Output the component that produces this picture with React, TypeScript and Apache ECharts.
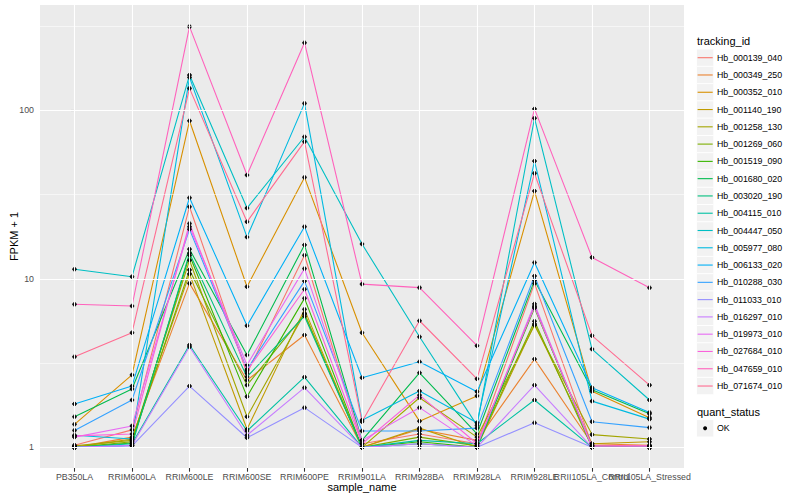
import React, { useEffect, useRef } from 'react';
import * as echarts from 'echarts';

const categories = [
  'PB350LA', 'RRIM600LA', 'RRIM600LE', 'RRIM600SE', 'RRIM600PE', 'RRIM901LA',
  'RRIM928BA', 'RRIM928LA', 'RRIM928LE', 'RRII105LA_Control', 'RRII105LA_Stressed',
];

const trackingIds = [
  'Hb_000139_040', 'Hb_000349_250', 'Hb_000352_010', 'Hb_001140_190', 'Hb_001258_130',
  'Hb_001269_060', 'Hb_001519_090', 'Hb_001680_020', 'Hb_003020_190', 'Hb_004115_010',
  'Hb_004447_050', 'Hb_005977_080', 'Hb_006133_020', 'Hb_010288_030', 'Hb_011033_010',
  'Hb_016297_010', 'Hb_019973_010', 'Hb_027684_010', 'Hb_047659_010', 'Hb_071674_010',
];

const seriesColors = [
  '#F8766D', '#EA8331', '#D89000', '#C09B00', '#A3A500', '#7CAE00', '#39B600', '#00BB4E',
  '#00BF7D', '#00C1A3', '#00BFC4', '#00BAE0', '#00B0F6', '#35A2FF', '#9590FF', '#C77CFF',
  '#E76BF3', '#FA62DB', '#FF62BC', '#FF6C91',
];

// FPKM + 1 per tracking id, in category order
const v000139 = [1.03, 1.27, 26.8, 2.75, 13.8, 1.05, 1.2, 1.05, 9.4, 1.03, 1.02];
const v000349 = [1.0, 1.15, 9.4, 2.5, 4.64, 1.0, 1.28, 1.1, 3.34, 1.05, 1.03];
const v000352 = [1.37, 2.69, 86.7, 8.98, 40, 4.79, 1.43, 2.02, 33.2, 2.15, 1.5];
const v001140 = [1.0, 1.12, 10.7, 1.28, 6.59, 1.0, 1.3, 1.0, 5.4, 1.05, 1.08];
const v001258 = [1.02, 1.1, 12.9, 1.52, 6.24, 1.0, 1.97, 1.15, 5.3, 1.19, 1.12];
const v001269 = [1.0, 1.08, 11.3, 2.34, 6.16, 1.0, 1.15, 1.02, 5.6, 1.0, 1.0];
const v001519 = [1.0, 1.06, 13.8, 2.0, 7.66, 1.0, 1.08, 1.0, 6.7, 1.02, 1.0];
const v001680 = [1.52, 2.22, 15.0, 3.53, 15.9, 1.1, 2.77, 1.2, 9.8, 2.2, 1.58];
const v003020 = [1.0, 1.03, 14.2, 2.62, 6.0, 1.0, 1.05, 1.0, 6.9, 1.0, 1.0];
const v004115 = [1.0, 1.05, 4.05, 1.25, 2.61, 1.0, 1.1, 1.05, 1.91, 1.0, 1.0];
const v004447 = [11.4, 10.3, 162, 26.3, 69.7, 16.1, 4.53, 1.35, 89.8, 3.83, 1.91];
const v005977 = [1.18, 1.12, 157, 17.7, 110, 1.45, 2.16, 1.4, 50, 1.88, 1.47];
const v006133 = [1.81, 2.31, 30.3, 5.27, 20.4, 2.59, 3.22, 2.14, 12.5, 2.26, 1.61];
const v010288 = [1.26, 1.91, 19.7, 2.9, 9.7, 1.25, 1.25, 1.3, 10.4, 1.42, 1.31];
const v011033 = [1.0, 1.02, 2.31, 1.14, 1.72, 1.0, 1.0, 1.0, 1.4, 1.0, 1.0];
const v016297 = [1.0, 1.03, 3.95, 1.18, 2.26, 1.0, 1.05, 1.0, 2.34, 1.0, 1.0];
const v019973 = [1.15, 1.34, 20.4, 3.08, 11.5, 1.1, 1.72, 1.02, 7.1, 1.0, 1.0];
const v027684 = [1.17, 1.2, 21.3, 2.85, 8.67, 1.05, 2.04, 1.05, 6.8, 1.02, 1.02];
const v047659 = [7.06, 6.9, 314, 41.3, 252, 9.31, 8.87, 4.01, 102, 13.4, 8.86];
const v071674 = [3.45, 4.79, 135, 21.8, 65.2, 1.42, 5.64, 2.55, 42.3, 4.6, 2.34];

const fpkmValues = [
  v000139, v000349, v000352, v001140, v001258, v001269, v001519, v001680, v003020, v004115,
  v004447, v005977, v006133, v010288, v011033, v016297, v019973, v027684, v047659, v071674,
];

const yTickValues = [1, 10, 100];
const yMinorValues = [3.1623, 31.623, 316.23];
const quantStatus = ['OK'];

const FONT = '"Liberation Sans", Arial, Helvetica, sans-serif';

export default function App() {
  const ref = useRef<HTMLDivElement>(null);

  useEffect(() => {
    const chart = echarts.init(ref.current as HTMLDivElement, null, { renderer: 'svg' });

    const lineSeries = trackingIds.map((id, i) => ({
      name: id,
      type: 'line',
      xAxisIndex: 0,
      data: fpkmValues[i].map((v, j) => [j, v]),
      showSymbol: false,
      symbol: 'none',
      silent: true,
      z: 3,
      lineStyle: { color: seriesColors[i], width: 1.1 },
      itemStyle: { color: seriesColors[i] },
    }));

    const pointData: number[][] = [];
    fpkmValues.forEach((row) => row.forEach((v, j) => pointData.push([j, v])));

    const majorLine = { color: '#FFFFFF', width: 1.1, type: 'solid', opacity: 1 };
    const minorLine = { color: '#FFFFFF', width: 0.55, type: 'solid', opacity: 1 };

    const gridSeries = {
      type: 'line',
      xAxisIndex: 0,
      data: [],
      z: 1,
      silent: true,
      markLine: {
        silent: true,
        symbol: ['none', 'none'],
        label: { show: false },
        emphasis: { disabled: true },
        data: [
          ...yMinorValues.map((v) => ({ yAxis: v, lineStyle: minorLine })),
          ...yTickValues.map((v) => ({ yAxis: v, lineStyle: majorLine })),
          ...categories.map((_c, j) => ({ xAxis: j, lineStyle: majorLine })),
        ],
      },
    };

    const graphics: any[] = [];
    graphics.push({
      type: 'text', x: 697, y: 41,
      style: { text: 'tracking_id', fontSize: 11, fontFamily: FONT, fill: '#000000', verticalAlign: 'middle' },
    });
    trackingIds.forEach((id, i) => {
      const yc = 57.7 + 17.28 * i;
      graphics.push({
        type: 'rect',
        shape: { x: 696.5, y: yc - 8.64, width: 17.28, height: 17.28 },
        style: { fill: '#F2F2F2', stroke: '#FFFFFF', lineWidth: 0.8 },
      });
      graphics.push({
        type: 'line',
        shape: { x1: 697.6, y1: yc, x2: 712.7, y2: yc },
        style: { stroke: seriesColors[i], lineWidth: 1.1 },
      });
      graphics.push({
        type: 'text', x: 717, y: yc,
        style: { text: id, fontSize: 8.8, fontFamily: FONT, fill: '#000000', verticalAlign: 'middle' },
      });
    });
    graphics.push({
      type: 'text', x: 697, y: 412,
      style: { text: 'quant_status', fontSize: 11, fontFamily: FONT, fill: '#000000', verticalAlign: 'middle' },
    });
    quantStatus.forEach((s, i) => {
      const yc = 428.3 + 17.28 * i;
      graphics.push({
        type: 'rect',
        shape: { x: 696.5, y: yc - 8.64, width: 17.28, height: 17.28 },
        style: { fill: '#F2F2F2', stroke: '#FFFFFF', lineWidth: 0.8 },
      });
      graphics.push({
        type: 'circle',
        shape: { cx: 705.1, cy: yc, r: 2 },
        style: { fill: '#000000' },
      });
      graphics.push({
        type: 'text', x: 717, y: yc,
        style: { text: s, fontSize: 8.8, fontFamily: FONT, fill: '#000000', verticalAlign: 'middle' },
      });
    });

    // main axis shows every label except index 9; a twin axis shows index 9,
    // so that the overlapping labels are all kept, as in the reference
    const mainLabelIdx = categories.map((_c, j) => j).filter((j) => j !== 9);
    const twinLabelIdx = [9];
    const xLabelStyle = {
      formatter: (v: number) => categories[Math.round(v)] ?? '',
      color: '#4D4D4D', fontSize: 8.8, fontFamily: FONT, margin: 4.5,
      hideOverlap: false, showMinLabel: true, showMaxLabel: true,
    };
    const xTickStyle = { show: true, length: 3.7, lineStyle: { color: '#333333', width: 1.07 } };

    chart.setOption({
      animation: false,
      textStyle: { fontFamily: FONT },
      grid: {
        left: 40, right: 116, top: 5, bottom: 32,
        show: true, backgroundColor: '#EBEBEB', borderWidth: 0,
        containLabel: false, outerBoundsMode: 'none',
      },
      xAxis: [
        {
          type: 'value',
          position: 'bottom',
          min: -0.6,
          max: 10.6,
          splitLine: { show: false },
          axisLine: { show: false },
          axisTick: { ...xTickStyle, customValues: mainLabelIdx },
          axisLabel: { ...xLabelStyle, customValues: mainLabelIdx },
          name: 'sample_name',
          nameLocation: 'middle',
          nameGap: 13.5,
          nameMoveOverlap: false,
          nameTextStyle: { color: '#000000', fontSize: 11, fontFamily: FONT },
        },
        {
          type: 'value',
          position: 'bottom',
          offset: 0,
          min: -0.6,
          max: 10.6,
          splitLine: { show: false },
          axisLine: { show: false },
          axisTick: { ...xTickStyle, customValues: twinLabelIdx },
          axisLabel: { ...xLabelStyle, customValues: twinLabelIdx },
        },
      ],
      yAxis: {
        type: 'log',
        logBase: 10,
        min: 0.754,
        max: 422,
        splitLine: { show: false },
        minorSplitLine: { show: false },
        axisLine: { show: false },
        axisTick: {
          show: true, length: 3.7, customValues: yTickValues,
          lineStyle: { color: '#333333', width: 1.07 },
        },
        axisLabel: {
          customValues: yTickValues,
          formatter: (v: number) => String(Math.round(v)),
          color: '#4D4D4D', fontSize: 8.8, fontFamily: FONT, margin: 6,
          showMinLabel: true, showMaxLabel: true,
        },
        name: 'FPKM + 1',
        nameLocation: 'middle',
        nameGap: 21,
        nameRotate: 90,
        nameMoveOverlap: false,
        nameTextStyle: { color: '#000000', fontSize: 11, fontFamily: FONT },
      },
      series: [
        gridSeries,
        ...lineSeries,
        {
          type: 'scatter',
          xAxisIndex: 0,
          data: pointData,
          symbol: 'circle',
          symbolSize: 3.6,
          silent: true,
          z: 4,
          itemStyle: { color: '#000000', borderColor: '#000000', borderWidth: 0.9, opacity: 1 },
        },
      ],
      graphic: graphics,
    });

    return () => chart.dispose();
  }, []);

  return (
    <div
      ref={ref}
      style={{ position: 'fixed', left: 0, top: 0, width: 800, height: 500, background: '#FFFFFF' }}
    />
  );
}
